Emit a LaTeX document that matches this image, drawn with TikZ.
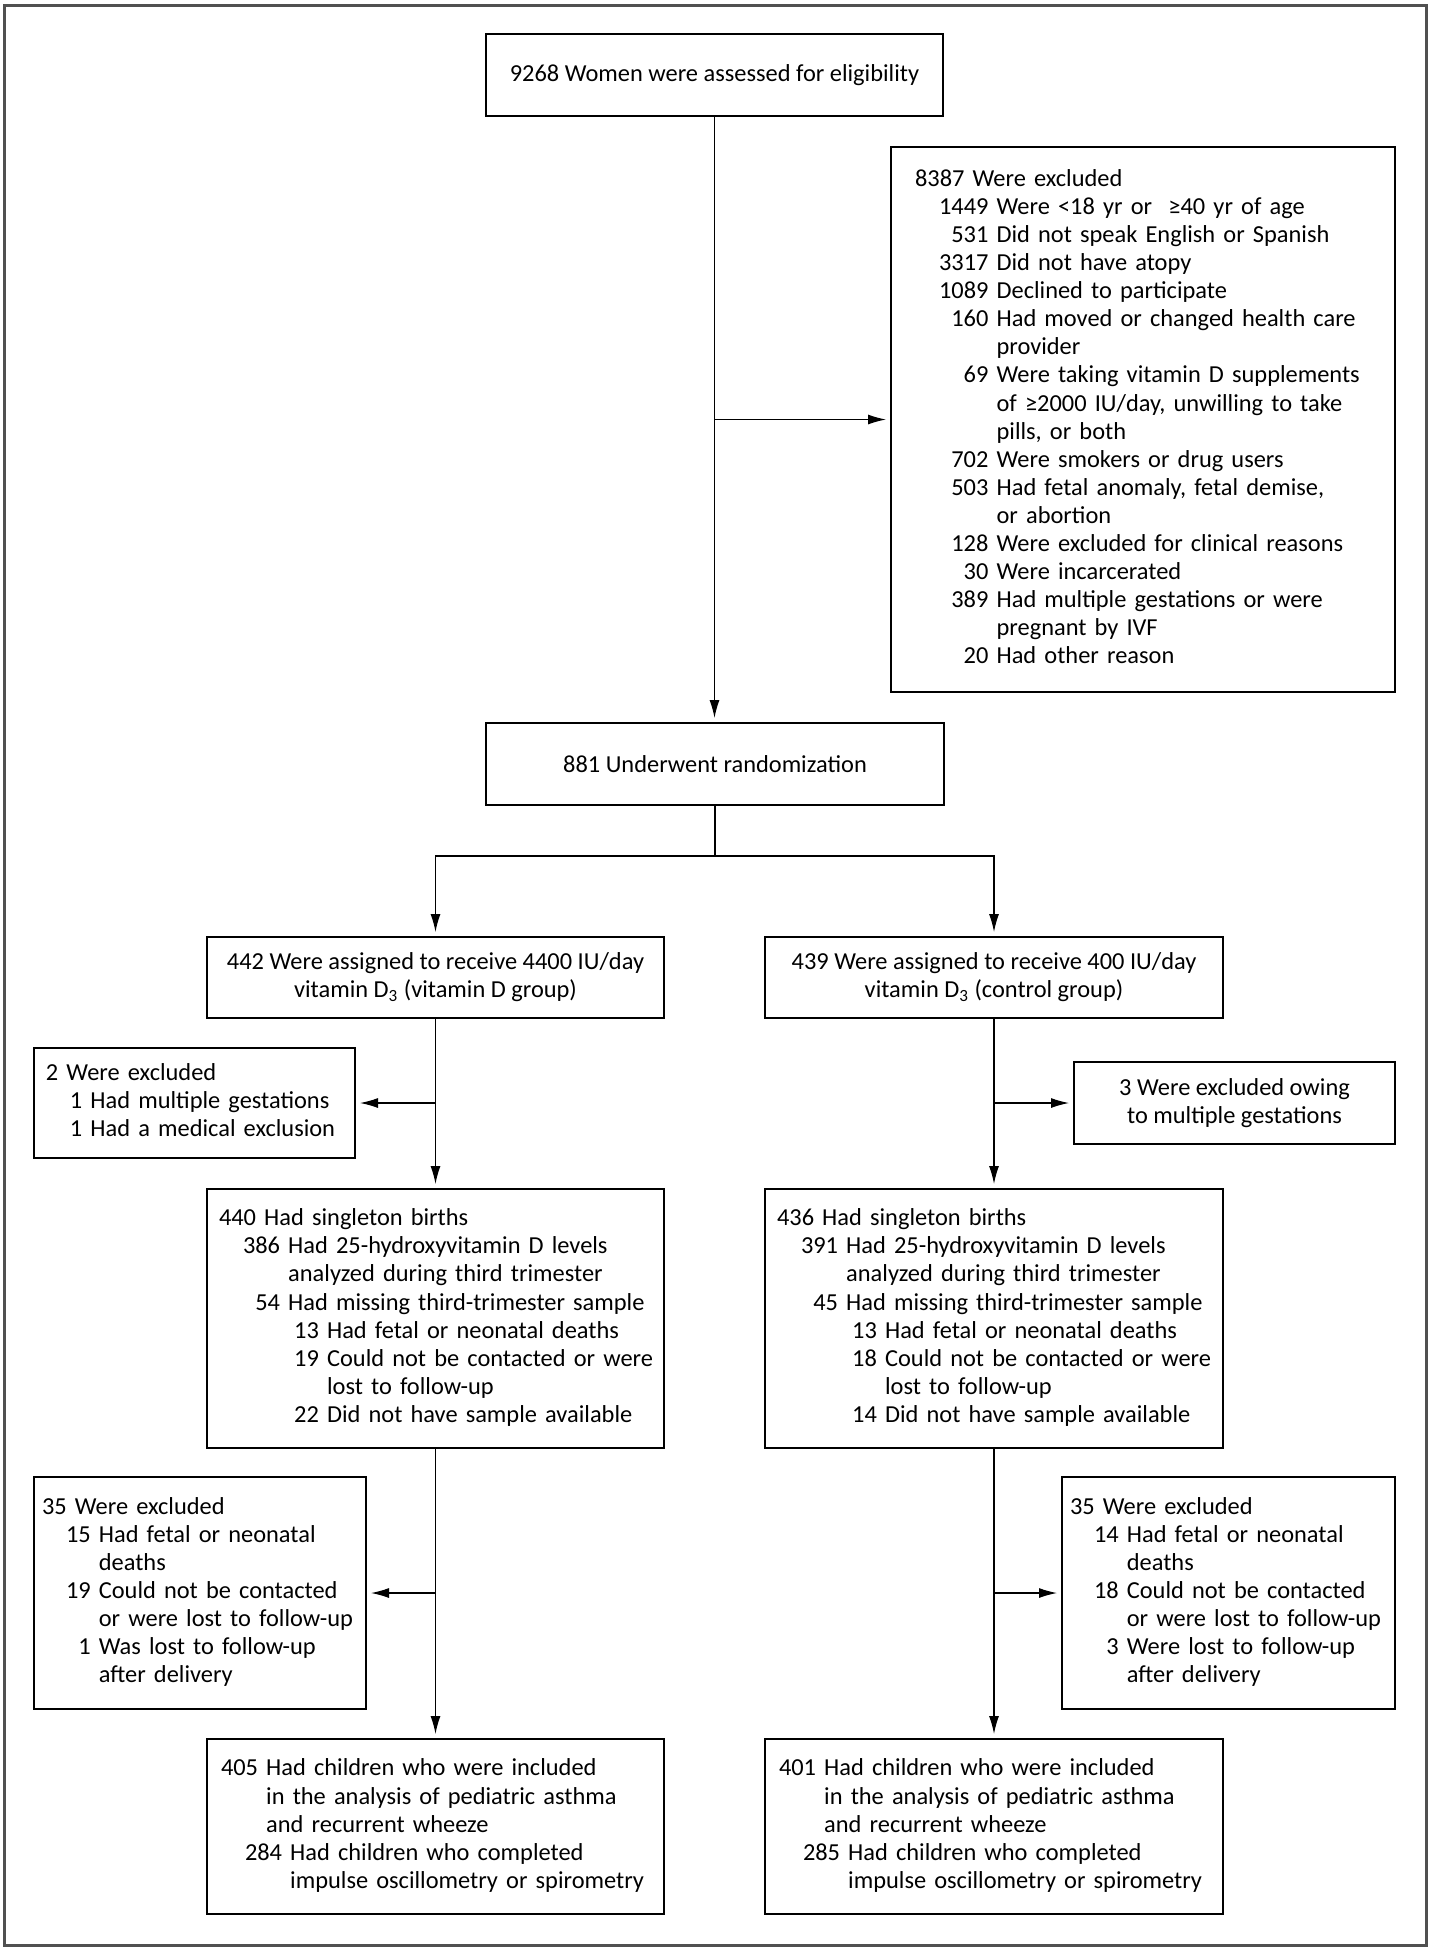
\documentclass[tikz,border=0pt]{standalone}
\usepackage{fontspec}
\setmainfont{Carlito}
\usepackage{array}
\usetikzlibrary{arrows.meta}
\tikzset{every picture/.style={line width=0.6pt}}
\definecolor{framegray}{RGB}{80,80,80}
\tikzset{
  flowbox/.style={draw, line width=1pt, inner ysep=0pt, align=left,
    font=\fontsize{12.2}{14.05}\selectfont},
  midbox/.style={flowbox, align=center},
  arr/.style={-{Latex[length=9pt,width=5pt]}, shorten >=2pt},
  outerframe/.style={draw=framegray, line width=1.5pt}
}
\newcommand{\ltab}[1]{\begin{tabular}{@{\hspace{12pt}}r@{\ }l@{}}#1\end{tabular}}
\newcommand{\hd}[1]{\multicolumn{2}{@{}l@{}}{#1}}
\newcommand{\lvtwo}[2]{\hspace{3pt}#1 #2}

\begin{document}
\begin{tikzpicture}[x=0.5pt,y=0.5pt,yscale=-1,xscale=1]
		%set diagram size to 1430 x 1950
		\useasboundingbox (0,0) rectangle (1430,1950);
		
		%Shape: Frame
		\draw[outerframe] (4,5.5) rectangle (1426,1945.5);
		
		%Shape: Rectangle
		\node[midbox, minimum width=228.5pt, minimum height=41pt] (assess) at (714.5,75)
			{9268 Women were assessed for eligibility};
		%Shape: Rectangle
		\node[flowbox, minimum width=252pt, minimum height=272.5pt, text width=228pt, inner xsep=12pt] (excl) at (1143,419.5)
			{\ltab{\hd{8387 Were excluded}\\
			1449 & Were <18 yr or \ ≥40 yr of age\\
			531 & Did not speak English or Spanish\\
			3317 & Did not have atopy\\
			1089 & Declined to participate\\
			160 & Had moved or changed health care\\
			 & provider\\
			69 & Were taking vitamin D supplements\\
			 & of ≥2000 IU/day, unwilling to take\\
			 & pills, or both\\
			702 & Were smokers or drug users\\
			503 & Had fetal anomaly, fetal demise,\\
			 & or abortion\\
			128 & Were excluded for clinical reasons\\
			30 & Were incarcerated\\
			389 & Had multiple gestations or were\\
			 & pregnant by IVF\\
			20 & Had other reason}};
		%Shape: Rectangle
		\node[midbox, minimum width=229pt, minimum height=41pt] (rand) at (715,764)
			{881 Underwent randomization};
		
		%Shape: Rectangle
		\node[midbox, minimum width=228.5pt, minimum height=40.5pt] (assignD) at (435.5,977.5)
			{442 Were assigned to receive 4400 IU/day\\vitamin D\textsubscript{3} (vitamin D group)};
		%Shape: Rectangle
		\node[midbox, minimum width=229pt, minimum height=40.5pt] (assignC) at (994,977.5)
			{439 Were assigned to receive 400 IU/day\\vitamin D\textsubscript{3} (control group)};
		
		%Shape: Rectangle
		\node[flowbox, minimum width=160.5pt, minimum height=55pt, text width=148.5pt, inner xsep=6pt] (exclD1) at (194.5,1103)
			{\ltab{\hd{2 Were excluded}\\
			1 & Had multiple gestations\\
			1 & Had a medical exclusion}};
		%Shape: Rectangle
		\node[midbox, minimum width=160.5pt, minimum height=41pt] (exclC1) at (1234.5,1103)
			{3 Were excluded owing\\to multiple gestations};
		
		%Shape: Rectangle
		\node[flowbox, minimum width=228.5pt, minimum height=129.5pt, text width=216.5pt, inner xsep=6pt] (birthD) at (435.5,1318.5)
			{\ltab{\hd{440 Had singleton births}\\
			386 & Had 25-hydroxyvitamin D levels\\
			 & analyzed during third trimester\\
			54 & Had missing third-trimester sample\\
			 & \lvtwo{13}{Had fetal or neonatal deaths}\\
			 & \lvtwo{19}{Could not be contacted or were}\\
			 & \lvtwo{\phantom{19}}{lost to follow-up}\\
			 & \lvtwo{22}{Did not have sample available}}};
		%Shape: Rectangle
		\node[flowbox, minimum width=229pt, minimum height=129.5pt, text width=217pt, inner xsep=6pt] (birthC) at (994,1318.5)
			{\ltab{\hd{436 Had singleton births}\\
			391 & Had 25-hydroxyvitamin D levels\\
			 & analyzed during third trimester\\
			45 & Had missing third-trimester sample\\
			 & \lvtwo{13}{Had fetal or neonatal deaths}\\
			 & \lvtwo{18}{Could not be contacted or were}\\
			 & \lvtwo{\phantom{18}}{lost to follow-up}\\
			 & \lvtwo{14}{Did not have sample available}}};
		
		%Shape: Rectangle
		\node[flowbox, minimum width=166pt, minimum height=116pt, text width=158pt, inner xsep=4pt] (exclD2) at (200,1593)
			{\ltab{\hd{35 Were excluded}\\
			15 & Had fetal or neonatal\\
			 & deaths\\
			19 & Could not be contacted\\
			 & or were lost to follow-up\\
			1 & Was lost to follow-up\\
			 & after delivery}};
		%Shape: Rectangle
		\node[flowbox, minimum width=166.5pt, minimum height=116pt, text width=158.5pt, inner xsep=4pt] (exclC2) at (1228.5,1593)
			{\ltab{\hd{35 Were excluded}\\
			14 & Had fetal or neonatal\\
			 & deaths\\
			18 & Could not be contacted\\
			 & or were lost to follow-up\\
			3 & Were lost to follow-up\\
			 & after delivery}};
		
		%Shape: Rectangle
		\node[flowbox, minimum width=228.5pt, minimum height=87.5pt, text width=214.5pt, inner xsep=7pt] (finalD) at (435.5,1826.5)
			{\ltab{\hd{405 Had children who were included}\\
			\hd{\phantom{405} in the analysis of pediatric asthma}\\
			\hd{\phantom{405} and recurrent wheeze}\\
			284 & Had children who completed\\
			 & impulse oscillometry or spirometry}};
		%Shape: Rectangle
		\node[flowbox, minimum width=229pt, minimum height=87.5pt, text width=215pt, inner xsep=7pt] (finalC) at (994,1826.5)
			{\ltab{\hd{401 Had children who were included}\\
			\hd{\phantom{401} in the analysis of pediatric asthma}\\
			\hd{\phantom{401} and recurrent wheeze}\\
			285 & Had children who completed\\
			 & impulse oscillometry or spirometry}};
		
		%Straight Lines
		\draw[arr] (assess.south) -- (assess.south |- rand.north);
		\draw[arr] (assess.south |- excl.west) -- (excl.west);
		
		%Straight Lines
		\coordinate (split) at (715,856);
		\draw (rand.south) -- (split);
		\draw[arr] (split) -| (assignD.north);
		\draw[arr] (split) -| (assignC.north);
		
		%Straight Lines
		\draw[arr] (assignD.south) -- (birthD.north);
		\draw[arr] (assignD.south |- exclD1.east) -- (exclD1.east);
		\draw[arr] (assignC.south) -- (birthC.north);
		\draw[arr] (assignC.south |- exclC1.west) -- (exclC1.west);
		
		%Straight Lines
		\draw[arr] (birthD.south) -- (finalD.north);
		\draw[arr] (birthD.south |- exclD2.east) -- (exclD2.east);
		\draw[arr] (birthC.south) -- (finalC.north);
		\draw[arr] (birthC.south |- exclC2.west) -- (exclC2.west);
		
\end{tikzpicture}
\end{document}
